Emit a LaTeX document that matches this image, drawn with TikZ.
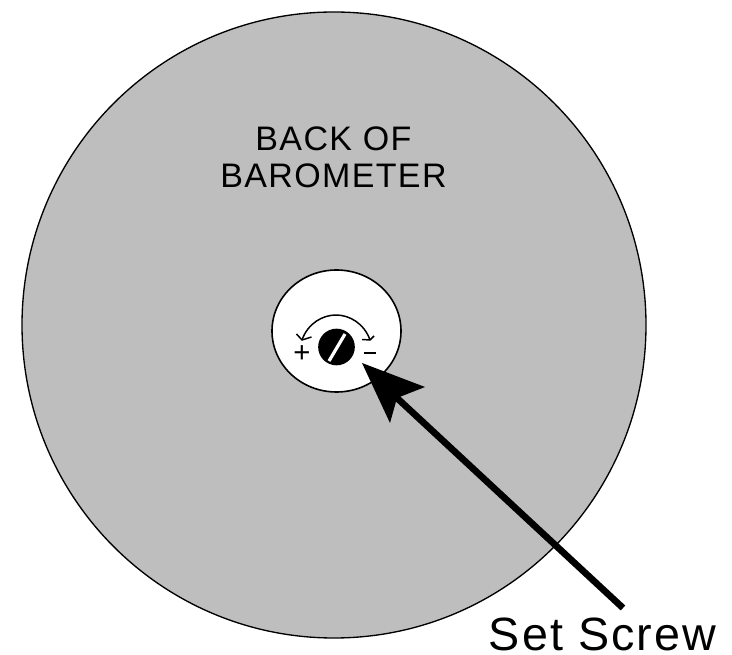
\documentclass[tikz,border=0pt]{standalone}
\usepackage{fontspec}
\setmainfont{Liberation Sans}
\definecolor{discgray}{HTML}{BEBEBE}
\tikzset{
  px/.style={x=0.75pt,y=-0.75pt},
  labeltext/.style={inner sep=0pt,align=center,font=\fontsize{25.5}{27.75}\selectfont\addfontfeature{LetterSpace=4}},
  bigtext/.style={inner sep=0pt,font=\fontsize{35}{38}\selectfont\addfontfeature{LetterSpace=4.5}},
  signtext/.style={inner sep=0pt,font=\fontsize{22}{24}\selectfont},
  thin line/.style={draw=black,line width=1pt},
  tick/.style={draw=black,line width=1.1pt,line join=round}
}
\begin{document}
\begin{tikzpicture}[px]
\useasboundingbox (0,0) rectangle (732,655);
\fill[white] (0,0) rectangle (732,655);
\filldraw[fill=discgray,thin line] (334,325) ellipse [x radius=312,y radius=313];
\filldraw[fill=white,line width=1.2pt] (336.5,331) ellipse [x radius=64.5,y radius=61];
\node[labeltext] (backlabel) at (333.5,157.5) {BACK OF\\BAROMETER};
\node[circle,fill=black,minimum size=27.5pt,inner sep=0pt] (screw) at (336.5,347) {};
\coordinate (slotA) at (329,361);
\coordinate (slotB) at (345,334);
\draw[white,line width=2.4pt] (slotA) -- (slotB);
\coordinate (arcL) at (302,340);
\coordinate (arcR) at (370,340);
\draw[tick] (arcL) .. controls (308,323) and (323,315) .. (336,315) .. controls (349,315) and (364,323) .. (370,340);
\draw[tick] (296.5,334) -- (arcL) -- (311.5,337);
\draw[tick] (362,339.5) -- (arcR) -- (374,336);
\node[signtext] (plus) at (302,354) {+};
\node[signtext] (minus) at (370,353) {\rule[0pt]{9.5pt}{0.9pt}};
\coordinate (tip) at (362,363);
\coordinate (headR) at (425,387);
\coordinate (notch) at (397,398);
\coordinate (headB) at (390,423);
\coordinate (tail) at (623,608);
\draw[black,line width=5pt] (notch) -- (tail);
\fill[black] (tip) -- (headR) -- (notch) -- (headB) -- cycle;
\node[bigtext,anchor=base] (setscrew) at (602.5,650) {Set Screw};
\end{tikzpicture}
\end{document}
